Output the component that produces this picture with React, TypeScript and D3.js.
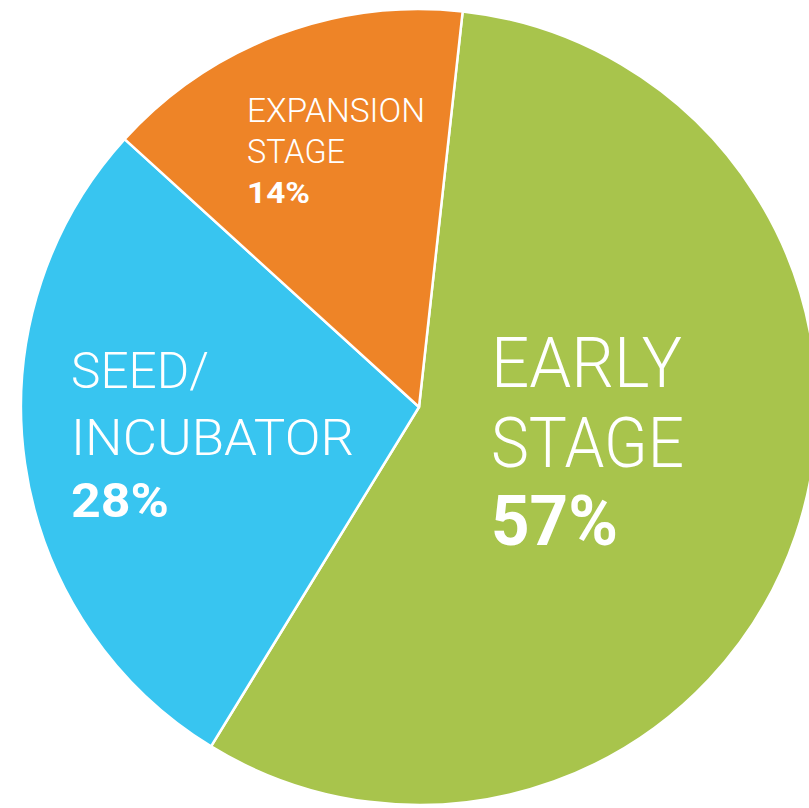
import React from "react";
import * as d3 from "d3";

const categories = ["EARLY STAGE", "SEED/INCUBATOR", "EXPANSION STAGE"];
const labelLines = [["EARLY", "STAGE"], ["SEED/", "INCUBATOR"], ["EXPANSION", "STAGE"]];
const percentLabels = ["57%", "28%", "14%"];
// slice shares as drawn in the picture
const shares = [57, 28, 15];
const colors = ["#A8C44C", "#38C5F0", "#EE8427"];

const W = 809;
const H = 808;
const cx = 419;
const cy = 407;
const R = 398;

// label layout: [x, first baseline, font size, line step, line widths, pct width, pct size]
const labelLayout = [
  { x: 491, y: 387, size: 70, step: 80, widths: [191, 193], pctY: 545, pctW: 127, pctSize: 70 },
  { x: 71, y: 388, size: 50, step: 67, widths: [138, 283], pctY: 517, pctW: 98, pctSize: 49 },
  { x: 247, y: 122, size: 33, step: 41, widths: [178, 98], pctY: 203, pctW: 63, pctSize: 30 },
];

export default function App() {
  const start = (6.3 * Math.PI) / 180;
  const pie = d3
    .pie<number>()
    .sort(null)
    .value((d) => d)
    .startAngle(start)
    .endAngle(start + 2 * Math.PI);
  const arcs = pie(shares);
  const arc = d3.arc<d3.PieArcDatum<number>>().innerRadius(0).outerRadius(R);

  return (
    <svg width={W} height={H} style={{ position: "absolute", left: 0, top: 0, background: "#fff" }}>
      <g transform={`translate(${cx},${cy})`}>
        {arcs.map((a, i) => (
          <path key={categories[i]} d={arc(a) || ""} fill={colors[i]} stroke="#fff" strokeWidth={2.5} strokeLinejoin="round" />
        ))}
      </g>
      {labelLayout.map((l, i) => (
        <g key={categories[i]} fill="#fff" fontFamily="Roboto, 'DejaVu Sans Condensed', sans-serif">
          {labelLines[i].map((t, j) => (
            <text
              key={t}
              x={l.x}
              y={l.y + j * l.step}
              fontSize={l.size}
              fontWeight={300}
              textLength={l.widths[j]}
              lengthAdjust="spacingAndGlyphs"
            >
              {t}
            </text>
          ))}
          <text x={l.x} y={l.pctY} fontSize={l.pctSize} fontWeight={700} textLength={l.pctW} lengthAdjust="spacingAndGlyphs">
            {percentLabels[i]}
          </text>
        </g>
      ))}
    </svg>
  );
}
